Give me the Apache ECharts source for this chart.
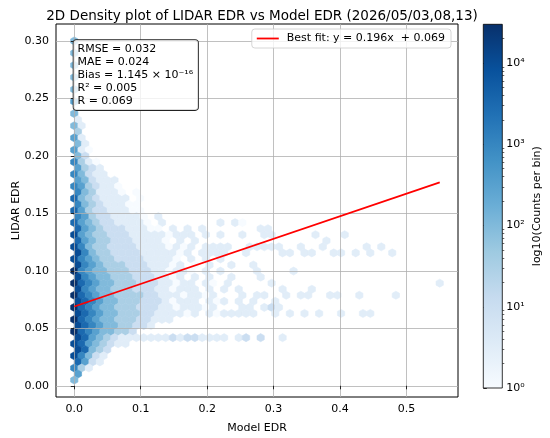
<!DOCTYPE html>
<html>
<head>
<meta charset="utf-8">
<script src="https://cdn.jsdelivr.net/npm/echarts@6.0.0/dist/echarts.min.js"></script>
<style>
  html, body { margin: 0; padding: 0; background: #fff; }
  #chart { width: 550px; height: 438px; }
</style>
</head>
<body>
<div id="chart"></div>
<script>
// hexbin layout (matplotlib style, gridsize 50)
const binXMin = 0, binXMax = 0.55, binYMin = 0.005, binYMax = 0.30;
const gridNx = 50, gridNy = 28;
const binW = (binXMax - binXMin) / gridNx;
const binH = (binYMax - binYMin) / gridNy;

// one string per half-row, top row first; char = log10(count) * 2, '.' = empty bin
// even half-rows start at x = 0, odd ones at x = binW / 2
const hexRows = [
  '4', '', '4', '', '4', '', '4', '', '4', '', '5', '', '4', '1',
  '41', '3', '51', '41', '510', '42', '6310', '5321', '64211', '542111',
  '6532110', '6431110.0', '74321111.0', '643211100', '7532211100',
  '6532211110 .1',
  '7543221111 0.1....... 1.10',
  '7543222111 00.1.1.1.. .....11',
  '8543322211 1110111.1. 1..1..11.. ...1...1',
  '7543322211 110.1.1... .......... ....1',
  '8643322221 1110101.11 11..11111. .1..1..... 1.1',
  '8643322221 111101.111 1..1....11 .11..11.1. 1..1',
  '8654332222 11110.1.1. 1',
  '8654333222 11101.0.1. .1..1',
  '9654433322 2110110.1. 1....1.... 1',
  '8654433322 21101.1.1. .1...1',
  '9765443332 2211011.10 .1.....1.. .......... .......... 1',
  '8654433322 2110111.1. 1.1.....1. ..1',
  '9765443333 2211101101 ...1.11..1 .11..11..1 ....1',
  '8765443332 2210111.10 1.1.1..1',
  '9765443332 2211011101 ...11.121.',
  '8765443332 2111101.10 11111..1.1 .1.1..1..1 1',
  '9765443332 2111',
  '8765443322 1',
  '976544332',
  '8754321111 1112122111 1.12.2..1',
  '87543211', '87432', '86421', '7521', '631', '5', '4'
];

const fitX = [0, 0.55];
const fitY = [0.069, 0.177];
const fitLabel = 'Best fit: y = 0.196x  + 0.069';
const statLines = ['RMSE = 0.032', 'MAE = 0.024', 'Bias = 1.145 × 10⁻¹⁶', 'R² = 0.005', 'R = 0.069'];

const xTicks = [0, 0.1, 0.2, 0.3, 0.4, 0.5];
const yTicks = [0, 0.05, 0.1, 0.15, 0.2, 0.25, 0.3];
const cbarMax = 4.477;            // log10 of the top colour (~3e4 counts)
const cbarTicks = [0, 1, 2, 3, 4];
const supDigits = ['⁰', '¹', '²', '³', '⁴'];
const blues = ['#f7fbff', '#deebf7', '#c6dbef', '#9ecae1', '#6baed6', '#4292c6', '#2171b5', '#08519c', '#08306b'];

const cbarMinor = [];
for (let n = 0; n < 5; n++) {
  for (let k = 2; k <= 9; k++) {
    const v = n + Math.log10(k);
    if (v < cbarMax) cbarMinor.push(v);
  }
}

const hexData = [];
hexRows.forEach(function (row, i) {
  const r = hexRows.length - 1 - i;
  const cells = row.replace(/ /g, '');
  const y = binYMin + r * binH / 2;
  const shift = (r % 2) ? binW / 2 : 0;
  for (let c = 0; c < cells.length; c++) {
    if (cells[c] === '.') continue;
    hexData.push([binXMin + shift + c * binW, y, Number(cells[c]) * 0.5]);
  }
});

const hexCorners = [[0.5, -1 / 6], [0.5, 1 / 6], [0, 1 / 3], [-0.5, 1 / 6], [-0.5, -1 / 6], [0, -1 / 3]];

const font = 'DejaVu Sans';
const chart = echarts.init(document.getElementById('chart'));

chart.setOption({
  animation: false,
  textStyle: { fontFamily: font },
  title: {
    text: '2D Density plot of LIDAR EDR vs Model EDR (2026/05/03,08,13)',
    left: 257, top: 4, textAlign: 'center',
    textStyle: { fontFamily: font, fontSize: 13.5, fontWeight: 'normal', color: '#000' }
  },
  legend: {
    data: [fitLabel],
    right: 99, top: 29,
    padding: [4, 6, 4, 5],
    icon: 'rect', itemWidth: 22, itemHeight: 1.8, itemGap: 8,
    backgroundColor: 'rgba(255,255,255,0.8)',
    borderColor: '#cccccc', borderWidth: 0.8, borderRadius: 3,
    textStyle: { fontFamily: font, fontSize: 11, color: '#000', padding: [0, 0, 0, 3] }
  },
  grid: [
    { left: 56, right: 92, top: 24, bottom: 41, outerBoundsMode: 'none', containLabel: false,
      show: true, borderColor: '#000', borderWidth: 1, backgroundColor: 'transparent' },
    { left: 483.3, top: 24.3, width: 19, height: 363.7, outerBoundsMode: 'none', containLabel: false }
  ],
  visualMap: {
    type: 'continuous', show: false, seriesIndex: 0, dimension: 2,
    min: 0, max: cbarMax, inRange: { color: blues }
  },
  xAxis: [{
    type: 'value', min: -0.0275, max: 0.5775, z: 3,
    name: 'Model EDR', nameLocation: 'middle', nameGap: 26, nameMoveOverlap: false,
    nameTextStyle: { fontFamily: font, fontSize: 11, color: '#000' },
    axisLine: { show: false },
    axisTick: { show: true, length: 3.5, customValues: xTicks, lineStyle: { color: '#000', width: 0.8 } },
    axisLabel: { customValues: xTicks, margin: 7, fontFamily: font, fontSize: 11, color: '#000',
      formatter: function (v) { return v.toFixed(1); } },
    splitLine: { show: true, lineStyle: { color: '#b0b0b0', width: 0.8 } }
  }, {
    gridIndex: 1, type: 'value', min: 0, max: 1, show: false
  }],
  yAxis: [{
    type: 'value', min: -0.00975, max: 0.31475, z: 3,
    name: 'LIDAR EDR', nameLocation: 'middle', nameGap: 34, nameMoveOverlap: false,
    nameTextStyle: { fontFamily: font, fontSize: 11, color: '#000' },
    axisLine: { show: false },
    axisTick: { show: true, length: 3.5, customValues: yTicks, lineStyle: { color: '#000', width: 0.8 } },
    axisLabel: { customValues: yTicks, margin: 7, fontFamily: font, fontSize: 11, color: '#000',
      formatter: function (v) { return v.toFixed(2); } },
    splitLine: { show: true, lineStyle: { color: '#b0b0b0', width: 0.8 } }
  }, {
    gridIndex: 1, type: 'value', min: 0, max: cbarMax, position: 'right',
    name: 'log10(Counts per bin)', nameLocation: 'middle', nameGap: 29, nameRotate: 90, nameMoveOverlap: false,
    nameTextStyle: { fontFamily: font, fontSize: 11, color: '#000' },
    axisLine: { show: false },
    axisTick: { show: true, length: 3.5, customValues: cbarTicks, lineStyle: { color: '#000', width: 0.8 } },
    axisLabel: { customValues: cbarTicks, margin: 4, fontFamily: font, fontSize: 11, color: '#000',
      formatter: function (v) { return '10' + supDigits[Math.round(v)]; } },
    splitLine: { show: false }
  }, {
    gridIndex: 1, type: 'value', min: 0, max: cbarMax, position: 'right',
    axisLine: { show: false },
    axisTick: { show: true, length: 2, customValues: cbarMinor, lineStyle: { color: '#000', width: 0.6 } },
    axisLabel: { show: false },
    splitLine: { show: false }
  }],
  series: [{
    type: 'custom',
    z: 1,
    encode: { x: 0, y: 1 },
    data: hexData,
    renderItem: function (params, api) {
      const cx = api.value(0), cy = api.value(1);
      const pts = hexCorners.map(function (k) {
        return api.coord([cx + k[0] * binW, cy + k[1] * binH]);
      });
      const col = api.visual('color');
      return { type: 'polygon', shape: { points: pts }, style: { fill: col, stroke: col, lineWidth: 0.6 } };
    }
  }, {
    type: 'line',
    name: fitLabel,
    z: 5,
    data: fitX.map(function (x, i) { return [x, fitY[i]]; }),
    showSymbol: false, symbol: 'none',
    itemStyle: { color: '#ff0000' },
    lineStyle: { color: '#ff0000', width: 1.8 }
  }, {
    type: 'custom',
    xAxisIndex: 1, yAxisIndex: 1,
    encode: { x: 0, y: [1, 2] },
    data: [[0, 0, cbarMax]],
    renderItem: function (params, api) {
      const p0 = api.coord([0, api.value(1)]);
      const p1 = api.coord([1, api.value(2)]);
      const stops = blues.map(function (c, i) { return { offset: i / (blues.length - 1), color: c }; });
      return {
        type: 'rect',
        shape: { x: p0[0], y: p1[1], width: p1[0] - p0[0], height: p0[1] - p1[1] },
        style: { fill: new echarts.graphic.LinearGradient(0, 1, 0, 0, stops), stroke: '#000', lineWidth: 0.8 }
      };
    }
  }],
  graphic: [{
    type: 'text',
    left: 72.7, top: 39.3, z: 10,
    style: {
      text: statLines.join('\n'),
      font: '11px "DejaVu Sans"',
      fill: '#000',
      lineHeight: 13,
      backgroundColor: 'rgba(255,255,255,0.8)',
      borderColor: '#222',
      borderWidth: 0.8,
      borderRadius: 3,
      padding: [3, 5, 2, 4]
    }
  }]
});
</script>
</body>
</html>
